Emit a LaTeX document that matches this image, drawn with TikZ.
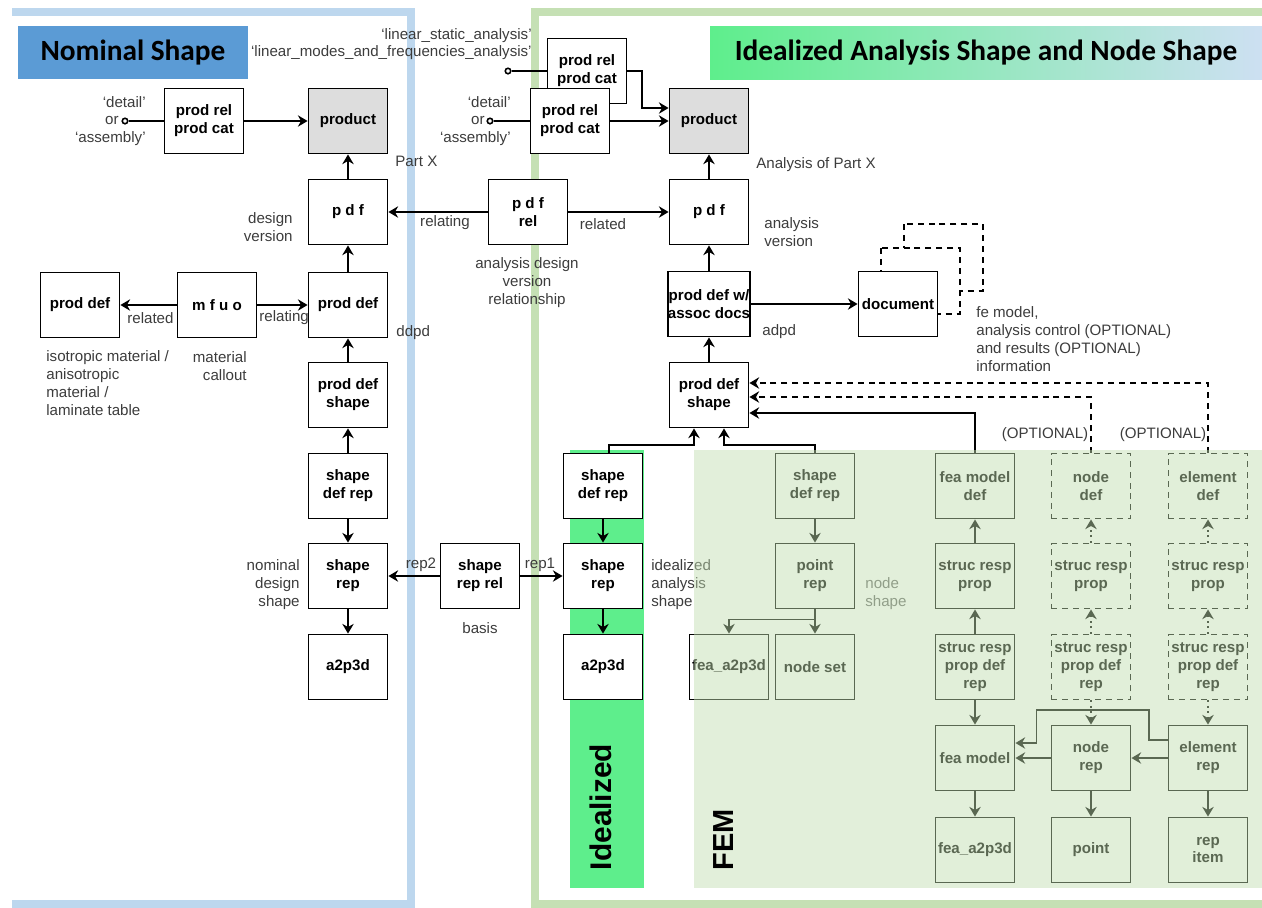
\documentclass[tikz,border=0pt]{standalone}
\usepackage{fontspec}
\setmainfont{Liberation Sans}
\newfontfamily\titlefont{Carlito}
\usetikzlibrary{calc,arrows.meta}
\definecolor{nomblue}{RGB}{91,155,213}
\definecolor{frameblue}{RGB}{189,215,238}
\definecolor{framegreen}{RGB}{197,224,180}
\definecolor{idgreen}{RGB}{94,238,140}
\definecolor{gradmid}{RGB}{160,214,222}
\definecolor{gradblue}{RGB}{205,224,242}
\definecolor{femveil}{RGB}{193,221,176}
\definecolor{prodgray}{RGB}{221,221,221}
\definecolor{lblgray}{RGB}{60,60,60}
\tikzstyle{bx}=[shape=rectangle,draw,fill=white,line width=1.1pt,minimum width=1.58cm,minimum height=1.3cm,align=center,inner sep=0pt,font=\fontsize{8.6}{10.2}\selectfont\bfseries]
\tikzstyle{dbx}=[bx,dash pattern=on 3.4pt off 2.8pt]
\tikzstyle{arr}=[->,>={Stealth[length=5.5pt,width=6.5pt,inset=1.8pt]},line width=1.1pt]
\tikzstyle{darr}=[arr,dash pattern=on 3.4pt off 2.8pt]
\tikzstyle{oarr}=[arr,dotted]
\tikzstyle{lbl}=[inner sep=0pt,text=lblgray,font=\fontsize{8.6}{10.2}\selectfont]
\tikzstyle{tie}=[circle,draw,fill=white,line width=0.9pt,inner sep=0pt,minimum size=1.1mm]
\tikzstyle{ttl}=[inner sep=0pt,minimum height=1.06cm,font=\titlefont\fontsize{16.7}{18}\selectfont\bfseries]
\begin{document}
\begin{tikzpicture}[x=0.02cm,y=-0.02cm]
            \useasboundingbox (0,0) rectangle (1262,907);
            % frames and titles
            \draw[frameblue,line width=4.5pt] (12,12) -- (411,12) -- (411,904) -- (12,904);
            \draw[framegreen,line width=4.5pt] (1262,12) -- (535,12) -- (535,904) -- (1262,904);
            \node[ttl,fill=nomblue,minimum width=4.6cm] (tNom) at (133,52.5) {Nominal Shape};
            \node[ttl,left color=idgreen,middle color=gradmid,right color=gradblue,minimum width=11.04cm] (tIdl) at (986,52.5) {Idealized Analysis Shape and Node Shape};
            \fill[idgreen] (570,450) rectangle (644,888);

            % nominal shape
            \node[bx,fill=prodgray] (prodL) at (348,121) {product};
            \node[bx] (prcL) at (204,121) {prod rel\\prod cat}
                edge[arr] (prodL)
            ;
            \node[bx] (pdfL) at (348,212) {p d f}
                edge[arr] (prodL)
            ;
            \node[bx] (pdL) at (348,305) {prod def}
                edge[arr] (pdfL)
            ;
            \node[bx] (pdM) at (80,305) {prod def};
            \node[bx] (mfuo) at (217,305) {m f u o}
                edge[arr] (pdM)
                edge[arr] (pdL)
            ;
            \node[bx] (pdsL) at (348,395) {prod def\\shape}
                edge[arr] (pdL)
            ;
            \node[bx] (sdrL) at (348,486) {shape\\def rep}
                edge[arr] (pdsL)
            ;
            \node[bx] (srL) at (348,576) {shape\\rep}
                edge[arr,<-] (sdrL)
            ;
            \node[bx] (a2L) at (348,667) {a2p3d}
                edge[arr,<-] (srL)
            ;
            \node[tie] (tieL) at (125,121) {};
            \draw[line width=1.1pt] (tieL) -- (prcL);
            \node[lbl,anchor=east] (detL) at (146,102) {‘detail’};
            \node[lbl,anchor=east] (orL) at (119,121) {or};
            \node[lbl,anchor=east] (asmL) at (146,139) {‘assembly’};
            \node[lbl,anchor=west] (partX) at (395,161) {Part X};
            \node[lbl,anchor=east,align=right] (desV) at (293,227) {design\\version};
            \node[lbl,anchor=west] (ddpd) at (396,333) {ddpd};
            \node[lbl,anchor=west] (relA) at (127,318) {related};
            \node[lbl,anchor=west] (relB) at (259,318) {relating};
            \node[lbl,anchor=west,align=left] (isoM) at (46,383) {isotropic material /\\anisotropic\\material /\\laminate table};
            \node[lbl,anchor=east,align=right] (matC) at (247,366) {material\\callout};
            \node[lbl,anchor=east,align=right] (nomS) at (300,585) {nominal\\design\\shape};

            % idealized analysis shape
            \node[bx,fill=prodgray] (prodR) at (709,121) {product};
            \node[bx] (prcB) at (587,71) {prod rel\\prod cat};
            \node[bx] (prcR) at (570,121) {prod rel\\prod cat}
                edge[arr] (prodR)
            ;
            \draw[arr] (prcB.east) -- ++(15,0) |- ($(prodR.west)+(0,-13)$);
            \node[tie] (tieLin) at (508,71) {};
            \draw[line width=1.1pt] (tieLin) -- (prcB);
            \node[tie] (tieR) at (490,121) {};
            \draw[line width=1.1pt] (tieR) -- (prcR);
            \node[lbl,anchor=east] (linS) at (532,36) {‘linear\_static\_analysis’};
            \node[lbl,anchor=east] (linM) at (532,53) {‘linear\_modes\_and\_frequencies\_analysis’};
            \node[lbl,anchor=east] (detR) at (511,102) {‘detail’};
            \node[lbl,anchor=east] (orR) at (485,121) {or};
            \node[lbl,anchor=east] (asmR) at (511,139) {‘assembly’};
            \node[bx] (pdfR) at (709,212) {p d f}
                edge[arr] (prodR)
            ;
            \node[bx] (pdfrel) at (528,212) {p d f\\rel}
                edge[arr] (pdfL)
                edge[arr] (pdfR)
            ;
            \draw[dash pattern=on 3.4pt off 2.8pt,line width=1.1pt,fill=white] (904,224) rectangle (983,291);
            \draw[dash pattern=on 3.4pt off 2.8pt,line width=1.1pt,fill=white] (881,248) rectangle (960,314);
            \node[bx] (doc) at (898,304) {document};
            \node[bx] (pdw) at (709,304) {prod def w/\\assoc docs}
                edge[arr] (pdfR)
                edge[arr] (doc)
            ;
            \node[bx] (pdsR) at (709,395) {prod def\\shape}
                edge[arr] (pdw)
            ;
            \node[bx] (sdrI) at (603,486) {shape\\def rep};
            \node[bx] (srI) at (603,576) {shape\\rep}
                edge[arr,<-] (sdrI)
            ;
            \node[bx] (a2I) at (603,667) {a2p3d}
                edge[arr,<-] (srI)
            ;
            \node[bx] (srr) at (480,576) {shape\\rep rel}
                edge[arr] (srL)
                edge[arr] (srI)
            ;
            \node[lbl] (rep2) at (421,565) {rep2};
            \node[lbl] (rep1) at (540,565) {rep1};
            \node[lbl] (basis) at (480,628) {basis};
            \node[lbl] (relC) at (445,223) {relating};
            \node[lbl] (relD) at (603,224) {related};
            \node[lbl,align=center] (advr) at (527,283) {analysis design\\version\\relationship};
            \node[lbl,anchor=west] (aPartX) at (756,165) {Analysis of Part X};
            \node[lbl,anchor=west,align=left] (anaV) at (764,232) {analysis\\version};
            \node[lbl,anchor=west] (adpd) at (762,332) {adpd};
            \node[lbl,anchor=west,align=left] (feInfo) at (976,339) {fe model,\\analysis control (OPTIONAL)\\and results (OPTIONAL)\\information};
            \node[lbl,anchor=west,align=left] (idlS) at (651,585) {idealized\\analysis\\shape};
            \node[lbl] (optN) at (1045,435) {(OPTIONAL)};
            \node[lbl] (optE) at (1163,435) {(OPTIONAL)};

            % node shape / FEM
            \node[bx] (sdrF) at (815,486) {shape\\def rep};
            \node[bx] (prF) at (815,576) {point\\rep}
                edge[arr,<-] (sdrF)
            ;
            \node[bx] (feaN) at (729,667) {fea\_a2p3d};
            \node[bx] (nset) at (815,667) {node set}
                edge[arr,<-] (prF)
            ;
            \draw[arr] (prF.south) -- ++(0,10) -| (feaN.north);
            \node[lbl,anchor=west,align=left,text=black!60] (ndS) at (865,594) {node\\shape};
            \node[bx] (fmd) at (975,486) {fea model\\def};
            \node[bx] (srp) at (975,576) {struc resp\\prop}
                edge[arr] (fmd)
            ;
            \node[bx] (fm) at (975,758) {fea model};
            \node[bx] (srpd) at (975,667) {struc resp\\prop def\\rep}
                edge[arr] (srp)
                edge[arr] (fm)
            ;
            \node[bx] (fa) at (975,850) {fea\_a2p3d}
                edge[arr,<-] (fm)
            ;
            \node[dbx] (ndef) at (1091,486) {node\\def};
            \node[dbx] (srpN) at (1091,576) {struc resp\\prop}
                edge[oarr] (ndef)
            ;
            \node[bx] (nrep) at (1091,758) {node\\rep}
                edge[arr] (fm)
            ;
            \node[dbx] (srpdN) at (1091,667) {struc resp\\prop def\\rep}
                edge[oarr] (srpN)
                edge[oarr] (nrep)
            ;
            \node[bx] (pt) at (1091,850) {point}
                edge[arr,<-] (nrep)
            ;
            \node[dbx] (edef) at (1208,486) {element\\def};
            \node[dbx] (srpE) at (1208,576) {struc resp\\prop}
                edge[oarr] (edef)
            ;
            \node[bx] (erep) at (1208,758) {element\\rep}
                edge[arr] (nrep)
            ;
            \node[dbx] (srpdE) at (1208,667) {struc resp\\prop def\\rep}
                edge[oarr] (srpE)
                edge[oarr] (erep)
            ;
            \node[bx] (ritem) at (1208,850) {rep\\item}
                edge[arr,<-] (erep)
            ;
            \draw[arr] ($(erep.west)+(0,-18)$) -- ++(-19,0) -- ++(0,-30) -| ($(fm.east)+(21,-15)$) -- ($(fm.east)+(0,-15)$);

            % into prod def shape
            \draw[arr] (sdrF.north) -- ++(0,-8) -| ($(pdsR.south)+(15,0)$);
            \draw[arr] ($(sdrI.north)+(6,0)$) -- ++(0,-8) -| ($(pdsR.south)+(-15,0)$);
            \draw[arr] (fmd.north) |- ($(pdsR.east)+(0,18)$);
            \draw[darr] (ndef.north) |- ($(pdsR.east)+(0,2)$);
            \draw[darr] (edef.north) |- ($(pdsR.east)+(0,-12)$);

            % veil over the FEM part
            \fill[femveil,fill opacity=0.47] (694,450) rectangle (1262,888);
            \node[rotate=90,inner sep=0pt,font=\fontsize{17}{18}\selectfont\bfseries] (idlT) at (601,807) {Idealized};
            \node[rotate=90,inner sep=0pt,font=\fontsize{16.5}{18}\selectfont\bfseries] (femT) at (724,840) {FEM};
        \end{tikzpicture}
\end{document}
